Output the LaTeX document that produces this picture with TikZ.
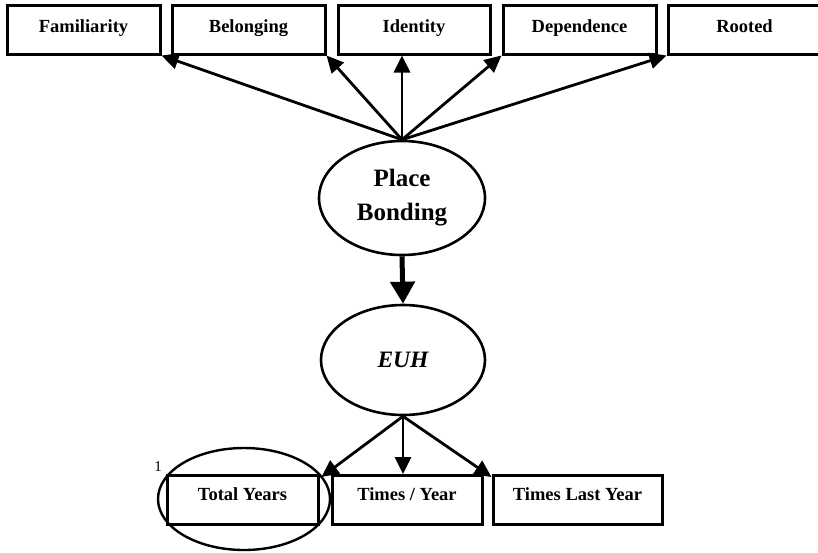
\documentclass[tikz,border=0pt]{standalone}
\usepackage{fontspec}
\setmainfont{Liberation Serif}
\usetikzlibrary{arrows.meta,shapes.geometric}
\begin{document}
\begin{tikzpicture}[x=1pt,y=-1pt,
  box/.style={draw,line width=3pt,rectangle,minimum height=49pt,inner sep=0pt,
    font=\fontsize{18.5}{20}\selectfont\bfseries},
  topbox/.style={box,text height=14pt,text depth=9pt},
  botbox/.style={box,text height=13pt,text depth=13pt},
  latent/.style={draw,ellipse,line width=2.6pt,inner sep=0pt},
  link/.style={line width=2.8pt,-{Triangle[length=17pt,width=16pt]}},
  biglink/.style={line width=5pt,-{Triangle[length=22pt,width=24pt]}}]
\useasboundingbox (0,0) rectangle (818,552);
% top indicators
\node[topbox,minimum width=153pt] (fam) at (83.5,29.5) {Familiarity};
\node[topbox,minimum width=153pt] (bel) at (248.5,29.5) {Belonging};
\node[topbox,minimum width=152pt] (ide) at (414,29.5) {Identity};
\node[topbox,minimum width=153pt] (dep) at (579.5,29.5) {Dependence};
\node[topbox,minimum width=153pt] (roo) at (744.5,29.5) {Rooted};
% latents
\node[latent,minimum width=166pt,minimum height=114pt,align=center,
  font=\fontsize{25}{34}\selectfont\bfseries] (pb) at (402,198) {Place\\Bonding};
\node[latent,minimum width=164pt,minimum height=110pt,
  font=\fontsize{23.5}{26}\selectfont\bfseries\itshape] (euh) at (403,360) {EUH};
% bottom indicators
\node[botbox,minimum width=151pt] (ty) at (242.5,500) {Total Years};
\node[botbox,minimum width=150pt] (tpy) at (407,500) {Times / Year};
\node[botbox,minimum width=169pt] (tly) at (577.5,500) {Times Last Year};
% highlight ring
\node[draw,ellipse,line width=2.4pt,minimum width=172pt,minimum height=102pt,inner sep=0pt] (ring) at (244,499) {};
\node[font=\fontsize{15}{15}\selectfont,inner sep=0pt] (one) at (158,467) {1};
% connectors
\draw[link] (pb.north) -- (fam.south east);
\draw[link] (pb.north) -- (bel.south east);
\draw[link] (pb.north) -- (pb.north |- ide.south);
\draw[link] (pb.north) -- (dep.south west);
\draw[link] (pb.north) -- (roo.south west);
\draw[biglink] (pb.south) -- (euh.north);
\draw[link] (euh.south) -- ([xshift=2pt,yshift=-3pt]ty.north east);
\draw[link] (euh.south) -- (euh.south |- tpy.north);
\draw[link] (euh.south) -- ([yshift=-3pt]tly.north west);
\end{tikzpicture}
\end{document}
